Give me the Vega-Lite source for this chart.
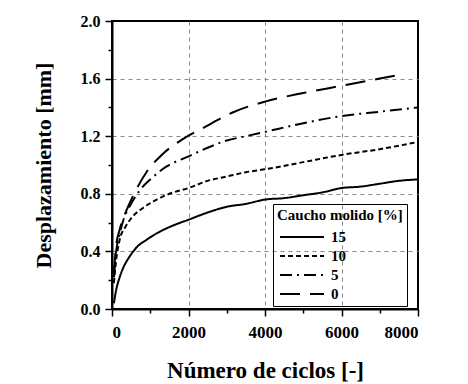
{
  "$schema": "https://vega.github.io/schema/vega-lite/v6.json",
  "autosize": "none",
  "width": 306,
  "height": 288,
  "padding": {"left": 112, "top": 21, "right": 50, "bottom": 75},
  "background": "white",
  "config": {
    "font": "Liberation Serif",
    "view": {"stroke": "black", "strokeWidth": 2},
    "axis": {
      "labelFont": "Liberation Serif", "labelFontWeight": "bold", "labelFontSize": 16, "labelColor": "black",
      "titleFont": "Liberation Serif", "titleFontWeight": "bold", "titleColor": "black",
      "domainColor": "black", "domainWidth": 2, "tickColor": "black", "tickWidth": 1.5,
      "gridColor": "#888", "gridDash": [4, 4], "gridWidth": 1
    },
    "legend": {
      "labelFont": "Liberation Serif", "titleFont": "Liberation Serif"
    }
  },
  "data": {"values": [
    {"c": "15", "x": 50, "y": 0.04}, {"c": "15", "x": 100, "y": 0.12}, {"c": "15", "x": 200, "y": 0.22},
    {"c": "15", "x": 300, "y": 0.29}, {"c": "15", "x": 450, "y": 0.36}, {"c": "15", "x": 650, "y": 0.43},
    {"c": "15", "x": 900, "y": 0.48}, {"c": "15", "x": 1200, "y": 0.53}, {"c": "15", "x": 1600, "y": 0.58},
    {"c": "15", "x": 2000, "y": 0.62}, {"c": "15", "x": 2500, "y": 0.67}, {"c": "15", "x": 3000, "y": 0.71},
    {"c": "15", "x": 3500, "y": 0.73}, {"c": "15", "x": 4000, "y": 0.76}, {"c": "15", "x": 4500, "y": 0.77},
    {"c": "15", "x": 5000, "y": 0.79}, {"c": "15", "x": 5500, "y": 0.81}, {"c": "15", "x": 6000, "y": 0.84},
    {"c": "15", "x": 6500, "y": 0.85}, {"c": "15", "x": 7000, "y": 0.87}, {"c": "15", "x": 7500, "y": 0.89},
    {"c": "15", "x": 8000, "y": 0.9},
    {"c": "10", "x": 50, "y": 0.18}, {"c": "10", "x": 100, "y": 0.32}, {"c": "10", "x": 200, "y": 0.48},
    {"c": "10", "x": 350, "y": 0.57}, {"c": "10", "x": 500, "y": 0.63}, {"c": "10", "x": 800, "y": 0.7},
    {"c": "10", "x": 1100, "y": 0.75}, {"c": "10", "x": 1500, "y": 0.8}, {"c": "10", "x": 2000, "y": 0.84},
    {"c": "10", "x": 2500, "y": 0.89}, {"c": "10", "x": 3000, "y": 0.92}, {"c": "10", "x": 3500, "y": 0.95},
    {"c": "10", "x": 4000, "y": 0.97}, {"c": "10", "x": 5000, "y": 1.02}, {"c": "10", "x": 6000, "y": 1.07},
    {"c": "10", "x": 7000, "y": 1.11}, {"c": "10", "x": 8000, "y": 1.16},
    {"c": "5", "x": 50, "y": 0.22}, {"c": "5", "x": 100, "y": 0.38}, {"c": "5", "x": 200, "y": 0.52},
    {"c": "5", "x": 300, "y": 0.62}, {"c": "5", "x": 500, "y": 0.73}, {"c": "5", "x": 775, "y": 0.84},
    {"c": "5", "x": 1000, "y": 0.9}, {"c": "5", "x": 1430, "y": 0.99}, {"c": "5", "x": 2000, "y": 1.06},
    {"c": "5", "x": 2500, "y": 1.12}, {"c": "5", "x": 3000, "y": 1.17}, {"c": "5", "x": 3500, "y": 1.2},
    {"c": "5", "x": 4000, "y": 1.23}, {"c": "5", "x": 5000, "y": 1.29}, {"c": "5", "x": 6000, "y": 1.34},
    {"c": "5", "x": 7000, "y": 1.37}, {"c": "5", "x": 8000, "y": 1.4},
    {"c": "0", "x": 50, "y": 0.25}, {"c": "0", "x": 100, "y": 0.42}, {"c": "0", "x": 200, "y": 0.55},
    {"c": "0", "x": 340, "y": 0.66}, {"c": "0", "x": 560, "y": 0.79}, {"c": "0", "x": 900, "y": 0.95},
    {"c": "0", "x": 1300, "y": 1.07}, {"c": "0", "x": 1850, "y": 1.18}, {"c": "0", "x": 2400, "y": 1.26},
    {"c": "0", "x": 3200, "y": 1.37}, {"c": "0", "x": 4000, "y": 1.44}, {"c": "0", "x": 5000, "y": 1.5},
    {"c": "0", "x": 6000, "y": 1.55}, {"c": "0", "x": 7000, "y": 1.6}, {"c": "0", "x": 7500, "y": 1.625}
  ]},
  "mark": {"type": "line", "color": "black", "strokeWidth": 2, "interpolate": "monotone", "clip": true},
  "encoding": {
    "x": {
      "field": "x", "type": "quantitative",
      "scale": {"domain": [0, 8000], "nice": false, "zero": false},
      "axis": {
        "title": "Número de ciclos [-]", "titleFontSize": 23, "titlePadding": 19, "labelFontSize": 17,
        "values": [0, 1000, 2000, 3000, 4000, 5000, 6000, 7000, 8000],
        "labelExpr": "datum.value % 2000 == 0 ? format(datum.value, 'd') : ''",
        "labelPadding": 8,
        "tickSize": {"condition": {"test": "datum.value % 2000 == 0", "value": 7}, "value": 4},
        "gridOpacity": {"condition": {"test": "datum.value % 2000 == 0 && datum.value > 0 && datum.value < 8000", "value": 1}, "value": 0}
      }
    },
    "y": {
      "field": "y", "type": "quantitative",
      "scale": {"domain": [0, 2], "nice": false},
      "axis": {
        "title": "Desplazamiento [mm]", "titleFontSize": 22, "titlePadding": 25, "labelPadding": 5,
        "values": [0, 0.2, 0.4, 0.6, 0.8, 1.0, 1.2, 1.4, 1.6, 1.8, 2.0],
        "labelExpr": "round(datum.value * 10) % 4 == 0 ? format(datum.value, '.1f') : ''",
        "tickSize": {"condition": {"test": "round(datum.value * 10) % 4 == 0", "value": 7}, "value": 4},
        "gridOpacity": {"condition": {"test": "round(datum.value * 10) % 4 == 0 && datum.value > 0 && datum.value < 2", "value": 1}, "value": 0}
      }
    },
    "strokeDash": {
      "field": "c", "type": "nominal",
      "sort": ["15", "10", "5", "0"],
      "scale": {"domain": ["15", "10", "5", "0"], "range": [[1, 0], [5, 3], [12, 5, 2, 5], [20, 10]]},
      "legend": {
        "title": "Caucho molido [%]", "orient": "none", "legendX": 161, "legendY": 183,
        "titleFontSize": 15, "titleFontWeight": "bold", "titleColor": "black", "titlePadding": 3,
        "labelFontSize": 15, "labelFontWeight": "bold", "labelColor": "black",
        "symbolType": "M-2.2,0H2.2", "symbolSize": 400, "symbolStrokeWidth": 2, "symbolStrokeColor": "black",
        "strokeColor": "black", "padding": 4, "rowPadding": 0, "labelOffset": 18, "symbolOffset": 14
      }
    },
    "detail": {"field": "c", "type": "nominal"}
  }
}
